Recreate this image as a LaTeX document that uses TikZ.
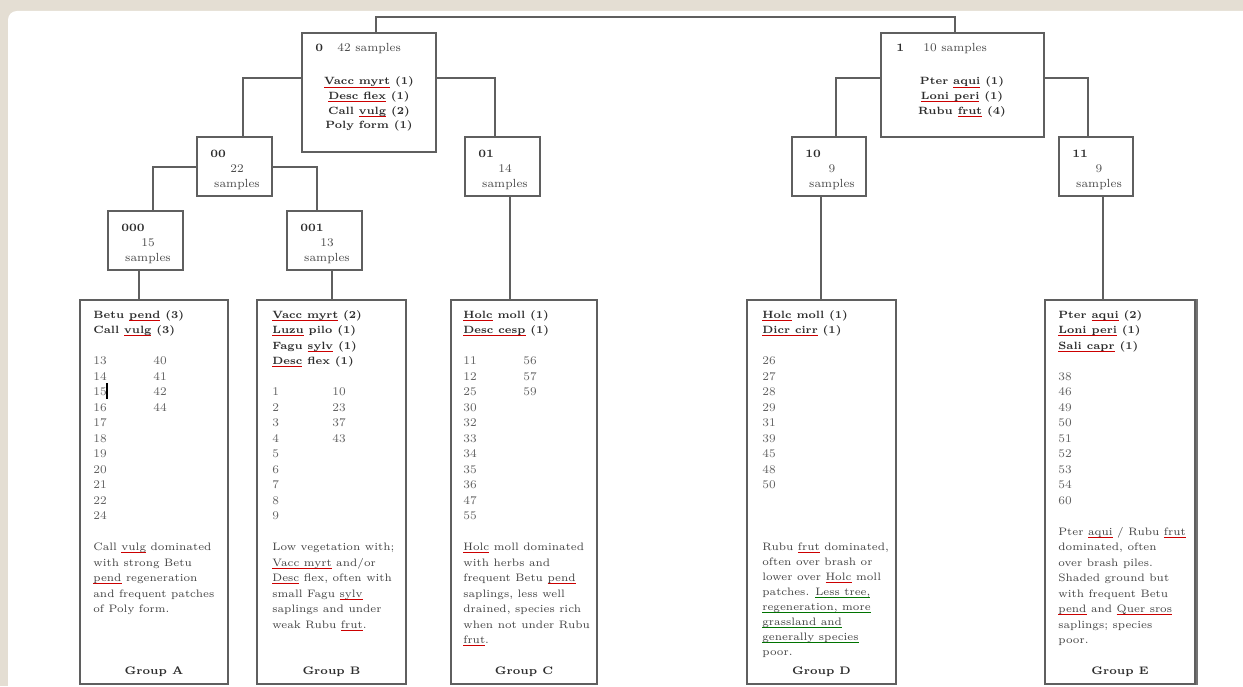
\documentclass[tikz,border=0pt]{standalone}
\usepackage{fontspec}
\usetikzlibrary{fit}

\definecolor{paper}{RGB}{228,222,211}
\definecolor{ink}{RGB}{45,45,45}
\definecolor{frame}{RGB}{95,95,95}

% spell-check marks under words
\newsavebox\ulbox
\newcommand\rul[1]{\sbox\ulbox{#1}\rlap{\textcolor{red!80!black}{\rule[-1.4pt]{\wd\ulbox}{0.35pt}}}\usebox\ulbox}
\newcommand\gul[1]{\sbox\ulbox{#1}\rlap{\textcolor{green!45!black}{\rule[-1.4pt]{\wd\ulbox}{0.35pt}}}\usebox\ulbox}

\begin{document}
\begin{tikzpicture}[x=0.02cm, y=-0.02cm,
    box/.style={draw=frame, line width=0.8pt, fill=white, inner sep=0pt},
    link/.style={draw=frame, line width=0.6pt},
    lbl/.style={font=\fontsize{6.4}{8}\bfseries\selectfont, text=ink, anchor=base west, inner sep=0pt},
    txt/.style={font=\fontsize{6.7}{8}\selectfont, text=ink!85, anchor=base west, inner sep=0pt},
    spc/.style={font=\fontsize{6}{8}\bfseries\selectfont, text=ink, anchor=base west, inner sep=0pt},
    num/.style={font=\fontsize{6.7}{8}\selectfont, text=ink!75, anchor=base west, inner sep=0pt},
    dsc/.style={font=\fontsize{6.15}{8}\selectfont, text=ink!90, anchor=base west, inner sep=0pt},
    grp/.style={font=\fontsize{6.2}{8}\bfseries\selectfont, text=ink, anchor=base, inner sep=0pt}]

    %% Page
    \useasboundingbox (0,0) rectangle (1243,686);
    \fill[paper] (0,0) rectangle (1243,686);
    \fill[white, rounded corners=5] (8,11) rectangle (1260,700);

    %% Boxes of the tree
    \node[box, fit={(302,33) (436,152)}] (n0) {};
    \node[box, fit={(881,33) (1044,137)}] (n1) {};
    \node[box, fit={(197,137) (272,196)}] (n00) {};
    \node[box, fit={(465,137) (540,196)}] (n01) {};
    \node[box, fit={(792,137) (866,196)}] (n10) {};
    \node[box, fit={(1059,137) (1133,196)}] (n11) {};
    \node[box, fit={(108,211) (183,270)}] (n000) {};
    \node[box, fit={(287,211) (362,270)}] (n001) {};

    % Groups
    \node[box, fit={(80,300) (228,684)}] (lfA) {};
    \node[box, fit={(257,300) (406,684)}] (lfB) {};
    \node[box, fit={(451,300) (597,684)}] (lfC) {};
    \node[box, fit={(747,300) (896,684)}] (lfD) {};
    \node[box, fit={(1045,300) (1195,684)}] (lfE) {};
    \draw[black!55, line width=1.4pt] ([xshift=0.6pt]lfE.north east) -- ([xshift=0.6pt]lfE.south east);

    %% Connectors
    \coordinate (t0) at (376,17);
    \coordinate (t1) at (955,17);
    \coordinate (e0l) at (243,78);
    \coordinate (e0r) at (495,78);
    \coordinate (e1l) at (836,78);
    \coordinate (e1r) at (1088,78);
    \coordinate (e00l) at (153,167);
    \coordinate (e00r) at (317,167);
    \draw[link] (t0 |- n0.north) -- (t0) -- (t1) -- (t1 |- n1.north);
    \draw[link] (n0.west |- e0l) -| (n00.north -| e0l);
    \draw[link] (n0.east |- e0r) -| (n01.north -| e0r);
    \draw[link] (n1.west |- e1l) -| (n10.north -| e1l);
    \draw[link] (n1.east |- e1r) -| (n11.north -| e1r);
    \draw[link] (n00.west |- e00l) -| (n000.north -| e00l);
    \draw[link] (n00.east |- e00r) -| (n001.north -| e00r);

    % drops to the groups
    \coordinate (dA) at (139,0);
    \coordinate (dB) at (332,0);
    \coordinate (dC) at (510,0);
    \coordinate (dD) at (821,0);
    \coordinate (dE) at (1103,0);
    \draw[link] (dA |- n000.south) -- (dA |- lfA.north);
    \draw[link] (dB |- n001.south) -- (dB |- lfB.north);
    \draw[link] (dC |- n01.south) -- (dC |- lfC.north);
    \draw[link] (dD |- n10.south) -- (dD |- lfD.north);
    \draw[link] (dE |- n11.south) -- (dE |- lfE.north);

    %% Top boxes
    \node[lbl] (n0-id) at (315,52) {0};
    \node[txt] (n0-cnt) at (337,52) {42 samples};
    \foreach \t [count=\i from 0] in {{\rul{Vacc myrt} (1)}, {\rul{Desc flex} (1)}, {Call \rul{vulg} (2)}, {Poly form (1)}}
        \node[spc, anchor=base] (n0-s\i) at (369,85+14.5*\i) {\t};

    \node[lbl] (n1-id) at (896,52) {1};
    \node[txt] (n1-cnt) at (923,52) {10 samples};
    \foreach \t [count=\i from 0] in {{Pter \rul{aqui} (1)}, {\rul{Loni peri} (1)}, {Rubu \rul{frut} (4)}}
        \node[spc, anchor=base] (n1-s\i) at (962,85+14.5*\i) {\t};

    % small boxes
    \foreach \nm/\l/\tp/\c in {00/197/137/22, 01/465/137/14, 10/792/137/9, 11/1059/137/9, 000/108/211/15, 001/287/211/13} {
        \node[lbl] (l\nm) at (\l+13,\tp+20) {\nm};
        \node[txt, anchor=base] (c\nm) at (\l+40,\tp+35) {\c};
        \node[txt, anchor=base] (s\nm) at (\l+40,\tp+50) {samples};
    }

    %% Group A
    \foreach \t [count=\i from 0] in {{Betu \rul{pend} (3)}, {Call \rul{vulg} (3)}}
        \node[spc] (a-s\i) at (93,318+15.5*\i) {\t};
    \foreach \t [count=\i from 3] in {13,14,15,16,17,18,19,20,21,22,24}
        \node[num] (a-n\i) at (93,318+15.5*\i) {\t};
    \foreach \t [count=\i from 3] in {40,41,42,44}
        \node[num] (a-m\i) at (153,318+15.5*\i) {\t};
    \draw[line width=1.2pt] (107,383) -- (107,399);
    \foreach \t [count=\i from 15] in {{Call \rul{vulg} dominated}, {with strong Betu}, {\rul{pend} regeneration}, {and frequent patches}, {of Poly form.}}
        \node[dsc] (a-d\i) at (93,318+15.5*\i) {\t};
    \node[grp] (a-g) at (lfA.center |- 0,674) {Group A};

    %% Group B
    \foreach \t [count=\i from 0] in {{\rul{Vacc myrt} (2)}, {\rul{Luzu} pilo (1)}, {Fagu \rul{sylv} (1)}, {\rul{Desc} flex (1)}}
        \node[spc] (b-s\i) at (272,318+15.5*\i) {\t};
    \foreach \t [count=\i from 5] in {1,2,3,4,5,6,7,8,9}
        \node[num] (b-n\i) at (272,318+15.5*\i) {\t};
    \foreach \t [count=\i from 5] in {10,23,37,43}
        \node[num] (b-m\i) at (332,318+15.5*\i) {\t};
    \foreach \t [count=\i from 15] in {{Low vegetation with;}, {\rul{Vacc myrt} and/or}, {\rul{Desc} flex, often with}, {small Fagu \rul{sylv}}, {saplings and under}, {weak Rubu \rul{frut}.}}
        \node[dsc] (b-d\i) at (272,318+15.5*\i) {\t};
    \node[grp] (b-g) at (lfB.center |- 0,674) {Group B};

    %% Group C
    \foreach \t [count=\i from 0] in {{\rul{Holc} moll (1)}, {\rul{Desc cesp} (1)}}
        \node[spc] (c-s\i) at (463,318+15.5*\i) {\t};
    \foreach \t [count=\i from 3] in {11,12,25,30,32,33,34,35,36,47,55}
        \node[num] (c-n\i) at (463,318+15.5*\i) {\t};
    \foreach \t [count=\i from 3] in {56,57,59}
        \node[num] (c-m\i) at (523,318+15.5*\i) {\t};
    \foreach \t [count=\i from 15] in {{\rul{Holc} moll dominated}, {with herbs and}, {frequent Betu \rul{pend}}, {saplings, less well}, {drained, species rich}, {when not under Rubu}, {\rul{frut}.}}
        \node[dsc] (c-d\i) at (463,318+15.5*\i) {\t};
    \node[grp] (c-g) at (lfC.center |- 0,674) {Group C};

    %% Group D
    \foreach \t [count=\i from 0] in {{\rul{Holc} moll (1)}, {\rul{Dicr cirr} (1)}}
        \node[spc] (d-s\i) at (762,318+15.5*\i) {\t};
    \foreach \t [count=\i from 3] in {26,27,28,29,31,39,45,48,50}
        \node[num] (d-n\i) at (762,318+15.5*\i) {\t};
    \foreach \t [count=\i from 0] in {{Rubu \rul{frut} dominated,}, {often over brash or}, {lower over \rul{Holc} moll}, {patches. \gul{Less tree,}}, {\gul{regeneration, more}}, {\gul{grassland and}}, {\gul{generally species}}, {poor.}}
        \node[dsc] (d-d\i) at (762,550.5+15*\i) {\t};
    \node[grp] (d-g) at (lfD.center |- 0,674) {Group D};

    %% Group E
    \foreach \t [count=\i from 0] in {{Pter \rul{aqui} (2)}, {\rul{Loni peri} (1)}, {\rul{Sali capr} (1)}}
        \node[spc] (e-s\i) at (1058,318+15.5*\i) {\t};
    \foreach \t [count=\i from 4] in {38,46,49,50,51,52,53,54,60}
        \node[num] (e-n\i) at (1058,318+15.5*\i) {\t};
    \foreach \t [count=\i from 14] in {{Pter \rul{aqui} / Rubu \rul{frut}}, {dominated, often}, {over brash piles.}, {Shaded ground but}, {with frequent Betu}, {\rul{pend} and \rul{Quer sros}}, {saplings; species}, {poor.}}
        \node[dsc] (e-d\i) at (1058,318+15.5*\i) {\t};
    \node[grp] (e-g) at (lfE.center |- 0,674) {Group E};

\end{tikzpicture}
\end{document}
